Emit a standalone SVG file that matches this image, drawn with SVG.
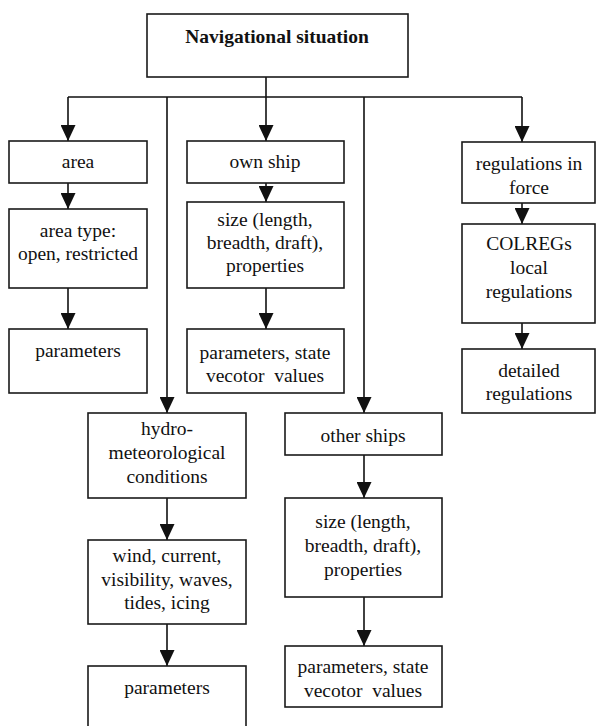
<svg xmlns="http://www.w3.org/2000/svg" width="596" height="726" viewBox="0 0 596 726">
<defs>
<style>
.box{fill:#fff;stroke:#1a1a1a;stroke-width:1.6}
.t{font-family:'Liberation Serif','Times New Roman','DejaVu Serif',serif;font-size:19.5px;fill:#111;text-anchor:middle}
.b{font-weight:bold}
.c{fill:none;stroke:#111;stroke-width:1.6}
</style>
<marker id="ah" viewBox="0 0 16 15" refX="16" refY="7.5" markerWidth="16" markerHeight="15" markerUnits="userSpaceOnUse" orient="auto">
<path d="M0,0 L16,7.5 L0,15 z" fill="#111"/>
</marker>
</defs>
<rect width="596" height="726" fill="#fff"/>
<g id="connectors">
<path class="c" d="M266,77 V97 M68,97 H522"/>
<path class="c" d="M68,97 V141" marker-end="url(#ah)"/>
<path class="c" d="M266,97 V141" marker-end="url(#ah)"/>
<path class="c" d="M167,97 V413" marker-end="url(#ah)"/>
<path class="c" d="M364,97 V413" marker-end="url(#ah)"/>
<path class="c" d="M522,97 V142" marker-end="url(#ah)"/>
<path class="c" d="M68,183 V209" marker-end="url(#ah)"/>
<path class="c" d="M68,288 V329" marker-end="url(#ah)"/>
<path class="c" d="M266,183 V202" marker-end="url(#ah)"/>
<path class="c" d="M266,288 V329" marker-end="url(#ah)"/>
<path class="c" d="M167,498 V540" marker-end="url(#ah)"/>
<path class="c" d="M167,624 V666" marker-end="url(#ah)"/>
<path class="c" d="M364,455 V498" marker-end="url(#ah)"/>
<path class="c" d="M364,597 V646" marker-end="url(#ah)"/>
<path class="c" d="M522,203 V224" marker-end="url(#ah)"/>
<path class="c" d="M522,323 V349" marker-end="url(#ah)"/>
</g>
<g id="nav">
<rect class="box" x="147" y="14" width="261" height="63"/>
<text class="t b" x="277" y="43">Navigational situation</text>
</g>
<g id="area">
<rect class="box" x="9" y="141" width="138" height="42"/>
<text class="t" x="78" y="168">area</text>
</g>
<g id="areatype">
<rect class="box" x="9" y="209" width="138" height="79"/>
<text class="t" x="78" y="237">area type:</text>
<text class="t" x="78" y="260">open, restricted</text>
</g>
<g id="areaparams">
<rect class="box" x="9" y="329" width="138" height="64"/>
<text class="t" x="78" y="357">parameters</text>
</g>
<g id="ownship">
<rect class="box" x="187" y="141" width="157" height="42"/>
<text class="t" x="265" y="168">own ship</text>
</g>
<g id="ownsize">
<rect class="box" x="187" y="202" width="157" height="86"/>
<text class="t" x="265" y="226">size (length,</text>
<text class="t" x="265" y="249">breadth, draft),</text>
<text class="t" x="265" y="272">properties</text>
</g>
<g id="ownparams">
<rect class="box" x="187" y="329" width="157" height="64"/>
<text class="t" x="265" y="359">parameters, state</text>
<text class="t" x="265" y="382" xml:space="preserve">vecotor  values</text>
</g>
<g id="regs">
<rect class="box" x="462" y="142" width="133" height="61"/>
<text class="t" x="529" y="170">regulations in</text>
<text class="t" x="529" y="194">force</text>
</g>
<g id="colregs">
<rect class="box" x="462" y="224" width="133" height="99"/>
<text class="t" x="529" y="250">COLREGs</text>
<text class="t" x="529" y="274">local</text>
<text class="t" x="529" y="298">regulations</text>
</g>
<g id="detailed">
<rect class="box" x="462" y="349" width="133" height="64"/>
<text class="t" x="529" y="377">detailed</text>
<text class="t" x="529" y="400">regulations</text>
</g>
<g id="hydro">
<rect class="box" x="88" y="413" width="158" height="85"/>
<text class="t" x="167" y="435">hydro-</text>
<text class="t" x="167" y="459">meteorological</text>
<text class="t" x="167" y="483">conditions</text>
</g>
<g id="wind">
<rect class="box" x="88" y="540" width="158" height="84"/>
<text class="t" x="167" y="562">wind, current,</text>
<text class="t" x="167" y="586">visibility, waves,</text>
<text class="t" x="167" y="609">tides, icing</text>
</g>
<g id="hydroparams">
<rect class="box" x="88" y="666" width="158" height="70"/>
<text class="t" x="167" y="694">parameters</text>
</g>
<g id="others">
<rect class="box" x="285" y="413" width="157" height="42"/>
<text class="t" x="363" y="442">other ships</text>
</g>
<g id="othersize">
<rect class="box" x="285" y="498" width="157" height="99"/>
<text class="t" x="363" y="528">size (length,</text>
<text class="t" x="363" y="552">breadth, draft),</text>
<text class="t" x="363" y="576">properties</text>
</g>
<g id="otherparams">
<rect class="box" x="285" y="646" width="157" height="61"/>
<text class="t" x="363" y="673">parameters, state</text>
<text class="t" x="363" y="697" xml:space="preserve">vecotor  values</text>
</g>
</svg>
